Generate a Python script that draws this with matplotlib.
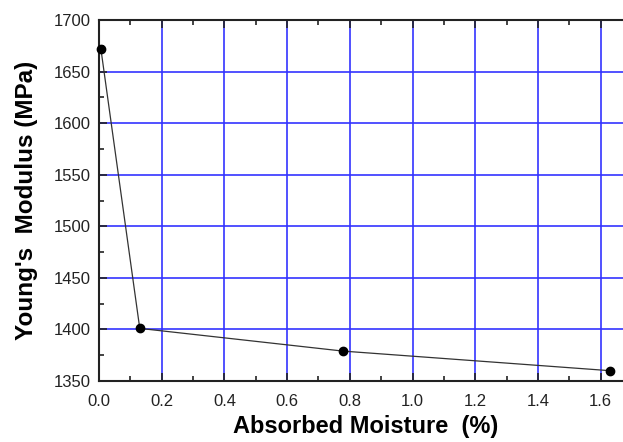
import matplotlib
matplotlib.use("Agg")
import matplotlib.pyplot as plt
from matplotlib.ticker import MultipleLocator

# values
moisture = [0.006, 0.13, 0.778, 1.63]
modulus = [1672, 1401, 1379, 1360]

plt.rcParams['font.family'] = ['Liberation Sans', 'DejaVu Sans']

fig = plt.figure(figsize=(6.23, 4.42), dpi=100)
# the right part of the axes runs past the figure edge, as in the original
ax = fig.add_axes([99 / 623, 1 - 381 / 442, 533 / 623, 361 / 442])

ax.plot(moisture, modulus, color='#333333', linewidth=0.9, zorder=3)
ax.scatter(moisture, modulus, s=36, color='black', zorder=4, clip_on=False)

ax.set_xlim(0.0, 1.7)
ax.set_ylim(1350, 1700)
ax.xaxis.set_major_locator(MultipleLocator(0.2))
ax.xaxis.set_minor_locator(MultipleLocator(0.1))
ax.yaxis.set_major_locator(MultipleLocator(50))
ax.yaxis.set_minor_locator(MultipleLocator(25))
ax.set_xticks([0.0, 0.2, 0.4, 0.6, 0.8, 1.0, 1.2, 1.4, 1.6])
ax.set_xticklabels(['0.0', '0.2', '0.4', '0.6', '0.8', '1.0', '1.2', '1.4', '1.6'])

ax.grid(True, which='major', color='#3333ff', linewidth=1.2)
ax.set_axisbelow(True)

ax.tick_params(which='both', direction='in', top=True, right=False,
               labelsize=12, colors='#222222', width=1.2)
ax.tick_params(which='major', length=6)
ax.tick_params(which='minor', length=3.5)
ax.tick_params(axis='x', pad=9)
ax.tick_params(axis='y', pad=6)
for side in ['left', 'bottom', 'top']:
    ax.spines[side].set_linewidth(1.5)
    ax.spines[side].set_color('#222222')

ax.set_xlabel("Absorbed Moisture  (%)", fontsize=17, fontweight='bold', labelpad=5)
ax.set_ylabel("Young's  Modulus (MPa)", fontsize=17.5, fontweight='bold', labelpad=11)

fig.savefig("out.png", dpi=100)
